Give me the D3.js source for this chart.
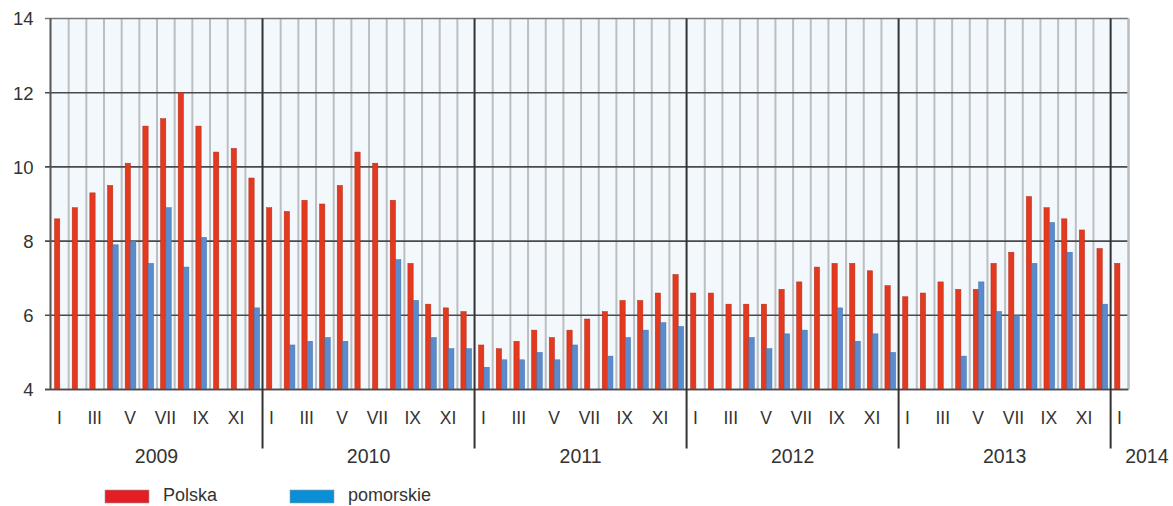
<!DOCTYPE html>
<html>
<head>
<meta charset="utf-8">
<script src="https://cdn.jsdelivr.net/npm/d3@7"></script>
<style>
  html, body { margin: 0; padding: 0; background: #ffffff; }
  svg { display: block; }
  text { font-family: "Liberation Sans", Arial, Helvetica, sans-serif; fill: #333333; }
</style>
</head>
<body>
<svg id="chart" width="1173" height="506"></svg>
<script>
// ---- data ----
const years = [2009, 2010, 2011, 2012, 2013, 2014];
const monthLabels = ["I", "II", "III", "IV", "V", "VI", "VII", "VIII", "IX", "X", "XI", "XII"];
const yTicks = [4, 6, 8, 10, 12, 14];
const seriesNames = ["Polska", "pomorskie"];

const polska = [
  8.6, 8.9, 9.3, 9.5, 10.1, 11.1, 11.3, 12.0, 11.1, 10.4, 10.5, 9.7,
  8.9, 8.8, 9.1, 9.0, 9.5, 10.4, 10.1, 9.1, 7.4, 6.3, 6.2, 6.1,
  5.2, 5.1, 5.3, 5.6, 5.4, 5.6, 5.9, 6.1, 6.4, 6.4, 6.6, 7.1,
  6.6, 6.6, 6.3, 6.3, 6.3, 6.7, 6.9, 7.3, 7.4, 7.4, 7.2, 6.8,
  6.5, 6.6, 6.9, 6.7, 6.7, 7.4, 7.7, 9.2, 8.9, 8.6, 8.3, 7.8,
  7.4
];
const pomorskie = [
  null, null, null, 7.9, 8.0, 7.4, 8.9, 7.3, 8.1, null, null, 6.2,
  null, 5.2, 5.3, 5.4, 5.3, null, null, 7.5, 6.4, 5.4, 5.1, 5.1,
  4.6, 4.8, 4.8, 5.0, 4.8, 5.2, null, 4.9, 5.4, 5.6, 5.8, 5.7,
  null, null, null, 5.4, 5.1, 5.5, 5.6, null, 6.2, 5.3, 5.5, 5.0,
  null, null, null, 4.9, 6.9, 6.1, 6.0, 7.4, 8.5, 7.7, null, 6.3,
  null
];

(function () {
// ---- layout ----
const svg = d3.select("#chart");
const nMonths = polska.length;
const pLeft = 50.5, pRight = 1128.3, pTop = 18.5, pBottom = 389.5;
const x = d3.scaleLinear().domain([0, nMonths]).range([pLeft, pRight]);
const y = d3.scaleLinear().domain([4, 14]).range([pBottom, pTop]);

const redFill = "#e2391f", redStroke = "#b42c18";
const blueFill = "#5b8bcc", blueStroke = "#3f6ea8";
const legendColors = ["#e41e25", "#0a8fd6"];

// background
svg.append("rect").attr("x", pLeft).attr("y", pTop)
  .attr("width", pRight - pLeft).attr("height", pBottom - pTop)
  .attr("fill", "#f2f8fc");

// vertical light grid lines (month boundaries)
const monthIdx = d3.range(1, nMonths + 1);
svg.append("g").selectAll("line")
  .data(monthIdx.filter(i => i % 12 !== 0))
  .join("line")
  .attr("x1", d => x(d) + 0.5).attr("x2", d => x(d) + 0.5)
  .attr("y1", pTop).attr("y2", pBottom)
  .attr("stroke", "#bcbfc1").attr("stroke-width", 2);

// horizontal grid lines + y axis
svg.append("g").selectAll("line")
  .data(yTicks)
  .join("line")
  .attr("x1", pLeft - 5.5).attr("x2", pRight)
  .attr("y1", d => y(d)).attr("y2", d => y(d))
  .attr("stroke", d => d === 14 ? "#777" : "#4a4a4a").attr("stroke-width", 1.6);

const yAxis = d3.axisLeft(y).tickValues(yTicks).tickSize(0).tickPadding(0);
const gy = svg.append("g").attr("transform", `translate(${pLeft - 17},0)`).call(yAxis);
gy.select(".domain").remove();
gy.selectAll("text").attr("font-size", 18.5).attr("fill", "#333")
  .attr("font-family", "'Liberation Sans', Arial, sans-serif").attr("dy", "0.35em");

// bars
const redOff = 4, redW = 5.3, blueW = 5.4;
svg.append("g").selectAll("rect")
  .data(polska.map((v, i) => ({ v, i })))
  .join("rect")
  .attr("x", d => x(d.i) + redOff)
  .attr("width", redW)
  .attr("y", d => y(d.v))
  .attr("height", d => y(4) - y(d.v))
  .attr("fill", redFill).attr("stroke", redStroke).attr("stroke-width", 0.5);

svg.append("g").selectAll("rect")
  .data(pomorskie.map((v, i) => ({ v, i })).filter(d => d.v !== null))
  .join("rect")
  .attr("x", d => x(d.i) + redOff + redW)
  .attr("width", blueW)
  .attr("y", d => y(d.v))
  .attr("height", d => y(4) - y(d.v))
  .attr("fill", blueFill).attr("stroke", blueStroke).attr("stroke-width", 0.5);

// left axis line and right border
svg.append("line").attr("x1", pLeft).attr("x2", pLeft).attr("y1", pTop).attr("y2", pBottom)
  .attr("stroke", "#555").attr("stroke-width", 2);
svg.append("line").attr("x1", pRight).attr("x2", pRight).attr("y1", pTop).attr("y2", pBottom)
  .attr("stroke", "#bcbfc1").attr("stroke-width", 2);
// bottom axis line
svg.append("line").attr("x1", pLeft - 5.5).attr("x2", pRight).attr("y1", y(4)).attr("y2", y(4))
  .attr("stroke", "#4a4a4a").attr("stroke-width", 1.6);

// year divider lines
const yearBreaks = d3.range(1, years.length).map(k => k * 12);
svg.append("g").selectAll("line")
  .data(yearBreaks)
  .join("line")
  .attr("x1", d => x(d)).attr("x2", d => x(d))
  .attr("y1", pTop).attr("y2", 448.5)
  .attr("stroke", "#333").attr("stroke-width", 2);

// month labels (odd months)
svg.append("g").selectAll("text")
  .data(d3.range(nMonths).filter(i => (i % 12) % 2 === 0))
  .join("text")
  .attr("x", d => x(d + 0.5))
  .attr("y", 423.5)
  .attr("text-anchor", "middle")
  .attr("font-size", 17.5)
  .text(d => monthLabels[d % 12]);

// year labels
svg.append("g").selectAll("text")
  .data(years)
  .join("text")
  .attr("x", (d, k) => k < years.length - 1 ? x(k * 12 + 6) : x(k * 12) + 14.5)
  .attr("y", 463)
  .attr("text-anchor", (d, k) => k < years.length - 1 ? "middle" : "start")
  .attr("font-size", 19.5)
  .text(d => d);

// legend
const legendX = [105, 290];
const lg = svg.append("g");
lg.selectAll("rect")
  .data(seriesNames)
  .join("rect")
  .attr("x", (d, i) => legendX[i]).attr("y", 490)
  .attr("width", 44).attr("height", 13)
  .attr("fill", (d, i) => legendColors[i])
  .attr("stroke", "#9a9a9a").attr("stroke-width", 0.6);
lg.selectAll("text")
  .data(seriesNames)
  .join("text")
  .attr("x", (d, i) => legendX[i] + 58)
  .attr("y", 501)
  .attr("font-size", 18)
  .text(d => d);
})();
</script>
</body>
</html>
